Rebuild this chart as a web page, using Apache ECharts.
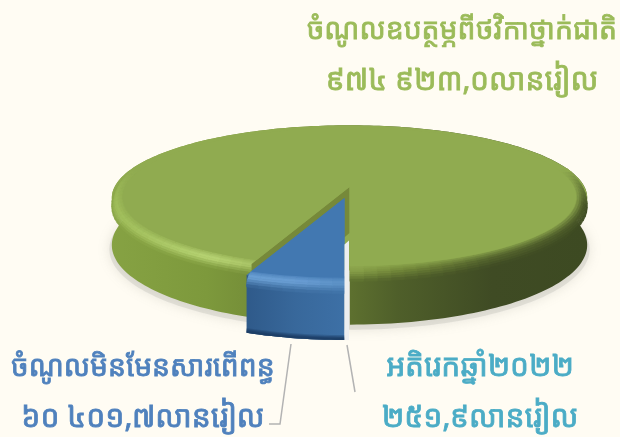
<!DOCTYPE html>
<html>
<head>
<meta charset="utf-8">
<style>
html, body { margin: 0; padding: 0; background: #fffcf3; }
#main { width: 620px; height: 437px; }
</style>
<script src="https://cdn.jsdelivr.net/npm/echarts@6/dist/echarts.min.js"></script>
</head>
<body>
<div id="main"></div>
<script>
var sliceNames = ['ចំណូលឧបត្ថម្ភពីថវិកាថ្នាក់ជាតិ', 'ចំណូលមិនមែនសារពើពន្ធ', 'អតិរេកឆ្នាំ២០២២'];
var sliceLabels = ['៩៧៤ ៩២៣,០លានរៀល', '៦០ ៤០១,៧លានរៀល', '២៥១,៩លានរៀល'];
var sliceValues = [974923.0, 60401.7, 251.9];
var sliceColors = ['#9bbb59', '#4f81bd', '#4bacc6'];

var FONT = '"Noto Sans Khmer", "Noto Sans", sans-serif';
var cx = 349.5, cy = 187, rx = 235, ry = 71, depth = 46, k = 0.15;

var total = sliceValues.reduce(function (a, b) { return a + b; }, 0);
var blueEnd = sliceValues[1] / total * Math.PI * 2;
var whiteAngle = sliceValues[2] / total * Math.PI * 2;

// perspective projection of a point on the disc, t runs clockwise from the front
function pt(t, r, z, off) {
    var u = -Math.sin(t) * r, v = Math.cos(t) * r;
    var s = 1 / (1 - k * v);
    return [cx + rx * u * s + off[0], cy + ry * v * s + depth * z * s + off[1]];
}
function arc(t0, t1, r, z, off) {
    var out = [], n = Math.max(2, Math.ceil(Math.abs(t1 - t0) * 40));
    for (var i = 0; i <= n; i++) out.push(pt(t0 + (t1 - t0) * i / n, r, z, off));
    return out;
}
function band(t0, t1, z0, z1, off) {
    return arc(t0, t1, 1, z0, off).concat(arc(t1, t0, 1, z1, off));
}
function hex(c) {
    return [parseInt(c.substr(1, 2), 16), parseInt(c.substr(3, 2), 16), parseInt(c.substr(5, 2), 16)];
}
function mixRgb(x, y, f) {
    return [0, 1, 2].map(function (i) { return x[i] + (y[i] - x[i]) * f; });
}
function css(c) {
    return 'rgb(' + c.map(Math.round).join(',') + ')';
}
function grad(stops) {
    return new echarts.graphic.LinearGradient(0, 0, 1, 0, stops.map(function (c, i) {
        return { offset: i / (stops.length - 1), color: c };
    }));
}
function poly(points, fill, extra) {
    return { type: 'polygon', shape: { points: points }, style: Object.assign({ fill: fill }, extra || {}), silent: true };
}
// colour from a left-to-right list of stops, x is 0..1
function ramp(stops, x) {
    var p = Math.min(Math.max(x, 0), 1) * (stops.length - 1), i = Math.min(Math.floor(p), stops.length - 2);
    return mixRgb(hex(stops[i]), hex(stops[i + 1]), p - i);
}
// rounded edge between the top face and the wall, painted as small patches, fades out toward the back
function bevel(t0, t1, off, face, hi, wall, bevelZ, x0, x1) {
    var out = [], rings = 8, seg = Math.max(1, Math.ceil((t1 - t0) / 0.05));
    for (var a = 0; a < seg; a++) {
        var ta = t0 + (t1 - t0) * a / seg, tb = t0 + (t1 - t0) * (a + 1) / seg, tm = (ta + tb) / 2;
        var v = Math.cos(tm);
        var fade = Math.min(Math.max((v + 0.25) / 0.45, 0), 1);
        if (fade === 0) continue;
        var cxPos = (pt(tm, 1, 0, off)[0] - x0) / (x1 - x0);
        var f = hex(face), h = ramp(hi, cxPos), w = ramp(wall, cxPos);
        for (var j = 0; j < rings; j++) {
            var p0 = j / rings, p1 = (j + 1) / rings, pm = (p0 + p1) / 2;
            var r0 = 0.95 + 0.05 * Math.sin(p0 * Math.PI / 2), r1 = 0.95 + 0.05 * Math.sin(p1 * Math.PI / 2);
            var z0 = bevelZ * (1 - Math.cos(p0 * Math.PI / 2)) * fade, z1 = bevelZ * (1 - Math.cos(p1 * Math.PI / 2)) * fade;
            var c = pm < 0.5 ? mixRgb(f, h, pm * 2) : mixRgb(h, w, (pm - 0.5) * 2);
            c = mixRgb(f, c, fade);
            var col = css(c);
            out.push(poly([pt(ta, r0, z0, off), pt(tb, r0, z0, off), pt(tb, r1, z1, off), pt(ta, r1, z1, off)], col, { stroke: col, lineWidth: 0.7 }));
        }
    }
    return out;
}

function groundShadow() {
    var off = [0, 4], pts = arc(0, Math.PI * 2, 1.01, 1, off);
    return { type: 'group', children: [
        poly(pts, 'rgba(190,190,180,0.35)', { shadowBlur: 12, shadowColor: 'rgba(140,140,130,0.6)' })
    ] };
}
function greenSlice() {
    var off = [0, 0], t0 = blueEnd, t1 = Math.PI * 2 - whiteAngle;
    var hi = ['#a2c05c', '#bcd878', '#9cb658', '#74893a', '#56662e', '#4c5a29'];
    var wall = ['#86a243', '#7d993c', '#6c8234', '#4f5f2a', '#3f4b24', '#3d4a22'];
    var top = [pt(0, 0, 0, off)].concat(arc(t0, t1, 0.955, 0, off));
    return { type: 'group', children: [
        poly(band(t0, t1, 0, 1, off), grad(wall)),
        poly(arc(t0, t1, 1, 0, off), '#90ab50')
    ].concat(
        bevel(t0, t1, off, '#90ab50', hi, wall, 0.2, 112, 587),
        [
            poly([pt(0, 0, 0, off), pt(0, 1, 0, off), pt(0, 1, 1, off), pt(0, 0, 1, off)], '#76893a'),
            poly([pt(0, 0, 0, off), pt(t0, 1, 0, off), pt(t0, 1, 1, off), pt(0, 0, 1, off)], '#76893a'),
            poly(top, '#90ab50')
        ]
    ) };
}
function blueSlice() {
    var off = [-5, 11], t0 = 0, t1 = blueEnd, zb = 1.08;
    var hi = ['#6ea4d8', '#6ea2d8', '#5f94c8'];
    var wall = ['#2f5a8a', '#38689b', '#3d70a6'];
    var top = [pt(0, 0, 0, off)].concat(arc(t0, t1, 0.96, 0, off));
    var edges = [];
    [0.09, 0.07, 0.05, 0.03].forEach(function (d, i) {
        edges.push(poly(band(t0, t1, zb - d, zb, off), 'rgba(28,60,100,' + (0.3 + i * 0.12) + ')'));
    });
    var out = [poly(band(t0, t1, 0, zb, off), grad(wall))].concat(edges);
    out.push(poly([pt(0, 0, 0, off)].concat(arc(t0, t1, 1, 0, off)), '#4278b1'));
    out = out.concat(bevel(t0, t1, off, '#4278b1', hi, wall, 0.22, 246, 344));
    out.push(poly(top, '#4278b1'));
    return { type: 'group', children: out };
}
function whiteSlice() {
    var off = [-5, 11], w = 4.5;
    var a = pt(0, 0.55, 0, off), b = pt(0, 1, 1.08, off);
    return { type: 'group', children: [
        poly([[a[0], a[1] + 4], [a[0] + w, a[1]], [b[0] + w, b[1]], [b[0], b[1]]], '#eceef0')
    ] };
}

var chart = echarts.init(document.getElementById('main'), null, { renderer: 'canvas' });
function txt(name, label, color, x, y, nameSize) {
    return [[name, nameSize], [label, 30]].map(function (row, i) {
        return { type: 'text', x: x, y: y + i * 50, style: { text: row[0], fill: color, stroke: color, lineWidth: 0.8, font: 'normal ' + row[1] + 'px ' + FONT, textAlign: 'center', textVerticalAlign: 'middle' }, silent: true };
    });
}
chart.setOption({
    backgroundColor: '#fffcf3',
    animation: false,
    xAxis: { show: false }, yAxis: { show: false },
    series: [{
        type: 'custom',
        coordinateSystem: 'none',
        silent: true,
        data: [0].concat(sliceValues),
        renderItem: function (params) {
            return [groundShadow, greenSlice, blueSlice, whiteSlice][params.dataIndex]();
        }
    }],
    graphic: [
        { type: 'polyline', shape: { points: [[291, 344], [280, 424], [269, 424]] }, style: { stroke: '#b3b3b3', lineWidth: 1.5, fill: 'none' }, silent: true },
        { type: 'polyline', shape: { points: [[347, 345], [355, 392]] }, style: { stroke: '#b3b3b3', lineWidth: 1.5, fill: 'none' }, silent: true }
    ].concat(
        txt(sliceNames[0], sliceLabels[0], sliceColors[0], 462, 31, 28.3),
        txt(sliceNames[1], sliceLabels[1], sliceColors[1], 143, 368, 28.3),
        txt(sliceNames[2], sliceLabels[2], sliceColors[2], 480, 368, 29.8)
    )
});
</script>
</body>
</html>
